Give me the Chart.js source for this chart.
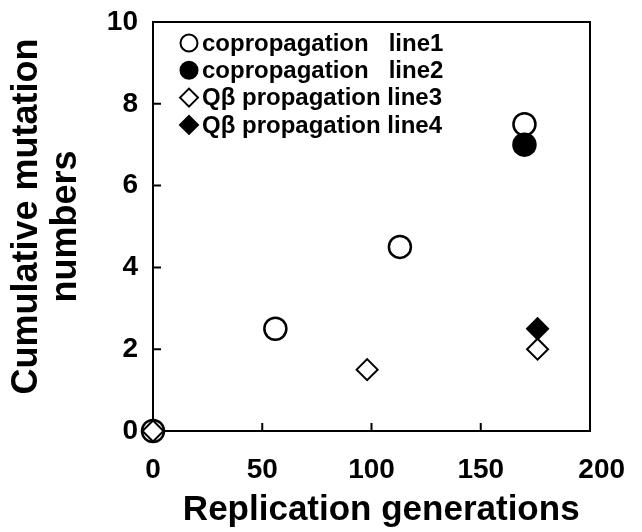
<!DOCTYPE html>
<html>
<head>
<meta charset="utf-8">
<script src="https://cdn.jsdelivr.net/npm/chart.js@4.4.0/dist/chart.umd.min.js"></script>
<style>
  html, body { margin: 0; padding: 0; background: #fff; }
</style>
</head>
<body>
<canvas id="mycanvas" width="642" height="532"></canvas>
<script>
// data
var seriesNames = ['copropagation   line1', 'copropagation   line2', 'Q\u03b2 propagation line3', 'Q\u03b2 propagation line4'];
var line1X = [0, 56, 113, 170];
var line1Y = [0, 2.5, 4.5, 7.5];
var line2X = [170];
var line2Y = [7];
var line3X = [0, 98, 176];
var line3Y = [0, 1.5, 2];
var line4X = [176];
var line4Y = [2.5];
var xTicks = [0, 50, 100, 150, 200];
var yTicks = [0, 2, 4, 6, 8, 10];

var FONT = "'Liberation Sans', Arial, sans-serif";

function pts(xs, ys) {
	var out = [];
	for (var i in xs) {
		out.push({x: xs[i], y: ys[i]});
	}
	return out;
}

// frame, inward ticks and the in-plot legend
var boxPlugin = {
	id: 'box',
	beforeDatasetsDraw: function(chart) {
		var a = chart.chartArea, ctx = chart.ctx;
		var xs = chart.scales.x, ys = chart.scales.y;
		ctx.save();
		ctx.strokeStyle = '#000';
		ctx.lineWidth = 2;
		ctx.strokeRect(a.left, a.top, a.right - a.left, a.bottom - a.top);
		ctx.beginPath();
		xTicks.slice(1, -1).forEach(function(v) {
			var px = xs.getPixelForValue(v);
			ctx.moveTo(px, a.bottom);
			ctx.lineTo(px, a.bottom - 8);
		});
		yTicks.slice(1, -1).forEach(function(v) {
			var py = ys.getPixelForValue(v);
			ctx.moveTo(a.left, py);
			ctx.lineTo(a.left + 8, py);
		});
		ctx.stroke();
		ctx.restore();
	},
	afterDraw: function(chart) {
		var a = chart.chartArea, ctx = chart.ctx;
		ctx.save();
		chart.data.datasets.forEach(function(ds, i) {
			var cx = a.left + 36, cy = a.top + 21 + i * 27.3;
			ctx.beginPath();
			if (ds.pointStyle == 'circle') {
				ctx.arc(cx, cy, 8.5, 0, Math.PI * 2);
			} else {
				ctx.moveTo(cx - 9, cy);
				ctx.lineTo(cx, cy - 9);
				ctx.lineTo(cx + 9, cy);
				ctx.lineTo(cx, cy + 9);
				ctx.closePath();
			}
			ctx.fillStyle = ds.backgroundColor;
			ctx.fill();
			ctx.lineWidth = 2;
			ctx.strokeStyle = '#000';
			ctx.stroke();
			ctx.fillStyle = '#000';
			ctx.font = 'bold 24px ' + FONT;
			ctx.textBaseline = 'middle';
			ctx.fillText(ds.label, a.left + 49, cy + 1);
		});
		ctx.restore();
	}
};

var chartdata = {
	datasets: [
		{
			label: seriesNames[0],
			data: pts(line1X, line1Y),
			pointStyle: 'circle',
			backgroundColor: '#ffffff',
			borderColor: '#000000',
			order: 2
		},
		{
			label: seriesNames[1],
			data: pts(line2X, line2Y),
			pointStyle: 'circle',
			backgroundColor: '#000000',
			borderColor: '#000000',
			order: 1
		},
		{
			label: seriesNames[2],
			data: pts(line3X, line3Y),
			pointStyle: 'rectRot',
			backgroundColor: '#ffffff',
			borderColor: '#000000',
			order: 0
		},
		{
			label: seriesNames[3],
			data: pts(line4X, line4Y),
			pointStyle: 'rectRot',
			backgroundColor: '#000000',
			borderColor: '#000000',
			order: 3
		}
	]
};

chartdata.datasets.forEach(function(ds) {
	ds.pointRadius = ds.pointStyle == 'circle' ? 11 : 10.5;
	ds.pointHoverRadius = ds.pointRadius;
	ds.pointBorderWidth = ds.pointStyle == 'circle' ? 2.5 : 2;
	ds.showLine = false;
	ds.clip = false;
});

var ctx = document.getElementById('mycanvas');

var scatterChart = new Chart(ctx, {
	type: 'scatter',
	data: chartdata,
	plugins: [boxPlugin],
	options: {
		responsive: false,
		animation: false,
		events: [],
		layout: {
			padding: {top: 22, right: 52, left: 0, bottom: 0}
		},
		plugins: {
			legend: {display: false},
			tooltip: {enabled: false}
		},
		scales: {
			x: {
				type: 'linear',
				min: xTicks[0],
				max: xTicks[xTicks.length - 1],
				afterBuildTicks: function(s) {
					s.ticks = xTicks.map(function(v) { return {value: v}; });
				},
				afterFit: function(s) {
					s.height = 101;
					s.paddingLeft = 0;
					s.paddingRight = 0;
				},
				grid: {display: false, drawTicks: false},
				border: {display: false},
				ticks: {
					color: '#000',
					padding: 22,
					maxRotation: 0,
					font: {family: FONT, size: 28, weight: 'bold'},
					// last label sits a little right of its tick in the original
					callback: function(v, i) {
						return i == xTicks.length - 1 ? '   ' + v : '' + v;
					}
				},
				title: {
					display: true,
					text: '  Replication generations',
					color: '#000',
					padding: {top: 0, bottom: 2},
					font: {family: FONT, size: 35, weight: 'bold', lineHeight: 1.1}
				}
			},
			y: {
				type: 'linear',
				min: yTicks[0],
				max: yTicks[yTicks.length - 1],
				afterBuildTicks: function(s) {
					s.ticks = yTicks.map(function(v) { return {value: v}; });
				},
				afterFit: function(s) {
					s.width = 153;
					s.paddingTop = 0;
					s.paddingBottom = 0;
				},
				grid: {display: false, drawTicks: false},
				border: {display: false},
				ticks: {
					color: '#000',
					padding: 15,
					font: {family: FONT, size: 28, weight: 'bold'}
				},
				title: {
					display: true,
					text: ['  Cumulative mutation', 'numbers'],
					color: '#000',
					padding: {top: 8, bottom: 0},
					font: {family: FONT, size: 36, weight: 'bold', lineHeight: 1.07}
				}
			}
		}
	}
});
</script>
</body>
</html>
